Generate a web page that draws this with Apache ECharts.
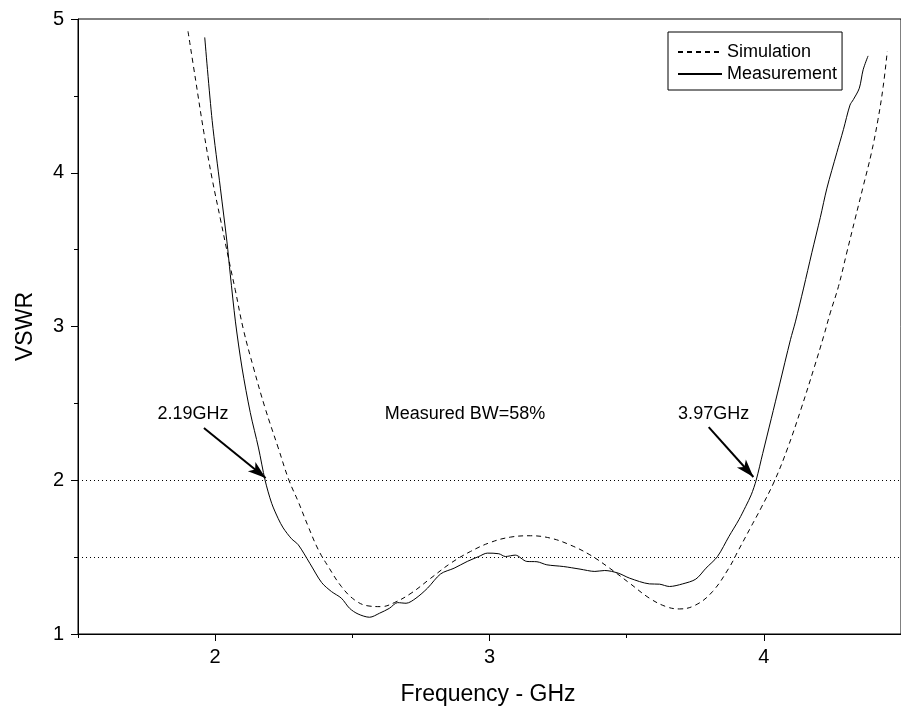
<!DOCTYPE html>
<html>
<head>
<meta charset="utf-8">
<style>
html,body{margin:0;padding:0;background:#fff;}
#chart{width:901px;height:713px;}
</style>
<script src="https://cdn.jsdelivr.net/npm/echarts@6/dist/echarts.min.js"></script>
</head>
<body>
<div id="chart"></div>
<script>
// ---- data (frequency GHz, VSWR) ----
const simFreq = [1.901,1.929,1.959,1.989,2.019,2.049,2.073,2.103,2.140,2.182,2.230,2.269,2.303,2.339,2.376,2.412,2.460,2.508,2.557,2.605,2.653,2.714,2.786,2.859,2.931,3.004,3.076,3.149,3.221,3.293,3.366,3.438,3.511,3.583,3.644,3.692,3.752,3.813,3.873,3.906,3.954,3.990,4.040,4.087,4.135,4.183,4.218,4.242,4.272,4.302,4.332,4.362,4.392,4.416,4.435,4.450];
const simVswr = [4.92,4.60,4.26,3.96,3.70,3.44,3.24,2.98,2.73,2.47,2.21,2.00,1.86,1.70,1.548,1.439,1.309,1.222,1.183,1.178,1.204,1.265,1.363,1.461,1.537,1.596,1.630,1.639,1.624,1.580,1.515,1.428,1.330,1.233,1.178,1.163,1.189,1.276,1.43,1.54,1.70,1.82,2.00,2.21,2.46,2.73,2.936,3.088,3.26,3.478,3.695,3.91,4.128,4.345,4.56,4.79];
const measFreq = [1.962,1.989,2.019,2.043,2.055,2.074,2.098,2.128,2.158,2.182,2.206,2.230,2.248,2.278,2.303,2.345,2.388,2.424,2.460,2.490,2.521,2.563,2.599,2.635,2.665,2.696,2.732,2.774,2.822,2.871,2.919,2.961,2.992,3.034,3.058,3.094,3.136,3.173,3.209,3.269,3.330,3.384,3.420,3.469,3.511,3.583,3.620,3.656,3.704,3.752,3.789,3.831,3.873,3.909,3.934,3.954,3.972,3.996,4.027,4.057,4.097,4.115,4.145,4.175,4.206,4.230,4.266,4.290,4.314,4.326,4.348,4.362,4.380];
const measVswr = [4.88,4.34,3.90,3.55,3.34,3.03,2.73,2.44,2.21,2.00,1.85,1.75,1.69,1.62,1.58,1.46,1.335,1.276,1.233,1.167,1.130,1.109,1.135,1.167,1.204,1.200,1.233,1.298,1.391,1.428,1.472,1.504,1.526,1.522,1.504,1.513,1.472,1.470,1.450,1.439,1.422,1.407,1.413,1.396,1.363,1.326,1.324,1.309,1.326,1.357,1.428,1.504,1.635,1.743,1.830,1.905,2.000,2.175,2.40,2.62,2.914,3.03,3.25,3.48,3.71,3.90,4.13,4.28,4.44,4.475,4.55,4.67,4.76];
const xTickLabels = [2, 3, 4];
const yTickLabels = [1, 2, 3, 4, 5];
const refLevels = [2, 1.5];
const annotations = [
  {name: '2.19GHz', at: [1.919, 2.433]},
  {name: 'Measured BW=58%', at: [2.911, 2.433]},
  {name: '3.97GHz', at: [3.817, 2.433]}
];
const arrows = [
  {from: [1.959, 2.34], to: [2.184, 2.015]},
  {from: [3.799, 2.346], to: [3.962, 2.021]}
];

const font = "'Liberation Sans', Arial, sans-serif";
const zip = (a, b) => a.map((v, i) => [v, b[i]]);

const chart = echarts.init(document.getElementById('chart'), null, {renderer: 'canvas'});
chart.setOption({
  animation: false,
  backgroundColor: '#fff',
  textStyle: {fontFamily: font, color: '#000'},
  grid: {left: 78, top: 19, width: 830, height: 615, show: true, borderColor: '#000', borderWidth: 1, containLabel: false},
  legend: {
    orient: 'vertical', left: 668, top: 32,
    padding: [11, 5, 7, 9],
    itemWidth: 44, itemHeight: 14, itemGap: 4,
    borderColor: '#000', borderWidth: 1,
    itemStyle: {opacity: 0},
    textStyle: {fontFamily: font, fontSize: 18, lineHeight: 18, color: '#000'},
    data: ['Simulation', 'Measurement']
  },
  xAxis: [{
    type: 'value', min: 1.5, max: 4.5, interval: 0.5,
    position: 'bottom',
    name: 'Frequency - GHz', nameLocation: 'middle', nameGap: 49,
    nameTextStyle: {fontFamily: font, fontSize: 23, color: '#000', padding: [0, 3, 0, 0]},
    axisLine: {show: true, onZero: false, lineStyle: {color: '#000', width: 1}},
    axisTick: {show: true, inside: false, length: 7, customValues: xTickLabels, lineStyle: {color: '#000'}},
    axisLabel: {show: true, customValues: xTickLabels, fontFamily: font, fontSize: 20, color: '#000', margin: 13},
    splitLine: {show: false}
  }, {
    type: 'value', min: 1.5, max: 4.5, interval: 0.5,
    position: 'bottom',
    axisLine: {show: false, onZero: false},
    axisTick: {show: true, inside: false, length: 4, lineStyle: {color: '#000'}},
    axisLabel: {show: false},
    splitLine: {show: false}
  }],
  yAxis: {
    type: 'value', min: 1, max: 5, interval: 1,
    name: 'VSWR', nameLocation: 'middle', nameGap: 41,
    nameTextStyle: {fontFamily: font, fontSize: 23, color: '#000'},
    axisLine: {show: true, onZero: false, lineStyle: {color: '#000', width: 1}},
    axisTick: {show: true, inside: false, length: 7, lineStyle: {color: '#000'}},
    minorTick: {show: true, splitNumber: 2, length: 4, lineStyle: {color: '#000'}},
    axisLabel: {fontFamily: font, fontSize: 20, color: '#000', margin: 14,
      formatter: v => (yTickLabels.indexOf(v) >= 0 ? String(v) : '')},
    splitLine: {show: false}
  },
  series: [{
    name: 'Simulation', type: 'line', xAxisIndex: 0,
    data: zip(simFreq, simVswr),
    showSymbol: false, symbol: 'none', smooth: 0.4,
    lineStyle: {color: '#000', width: 1, type: [5, 4]},
    itemStyle: {color: '#000'},
    markLine: {
      silent: true, animation: false,
      symbol: 'none',
      label: {show: false},
      lineStyle: {color: '#000', width: 2, type: 'solid'},
      data: arrows.map(a => [
        {coord: a.from, symbol: 'none'},
        {coord: a.to, symbol: 'arrow', symbolSize: [9, 18], itemStyle: {color: '#000'}}
      ])
    }
  }, {
    name: 'Measurement', type: 'line', xAxisIndex: 0,
    data: zip(measFreq, measVswr),
    showSymbol: false, symbol: 'none', smooth: 0.3,
    lineStyle: {color: '#000', width: 1, type: 'solid'},
    itemStyle: {color: '#000'},
    markLine: {
      silent: true, animation: false,
      symbol: ['none', 'none'],
      label: {show: false},
      lineStyle: {color: '#000', width: 1, type: [1, 3]},
      data: refLevels.map(v => ({yAxis: v}))
    },
    markPoint: {
      silent: true, animation: false,
      symbol: 'rect', symbolSize: 1,
      itemStyle: {color: 'rgba(0,0,0,0)'},
      label: {show: true, position: 'inside', formatter: '{b}', fontFamily: font, fontSize: 18, color: '#000'},
      data: annotations.map(a => ({name: a.name, coord: a.at}))
    }
  }]
});
</script>
</body>
</html>
